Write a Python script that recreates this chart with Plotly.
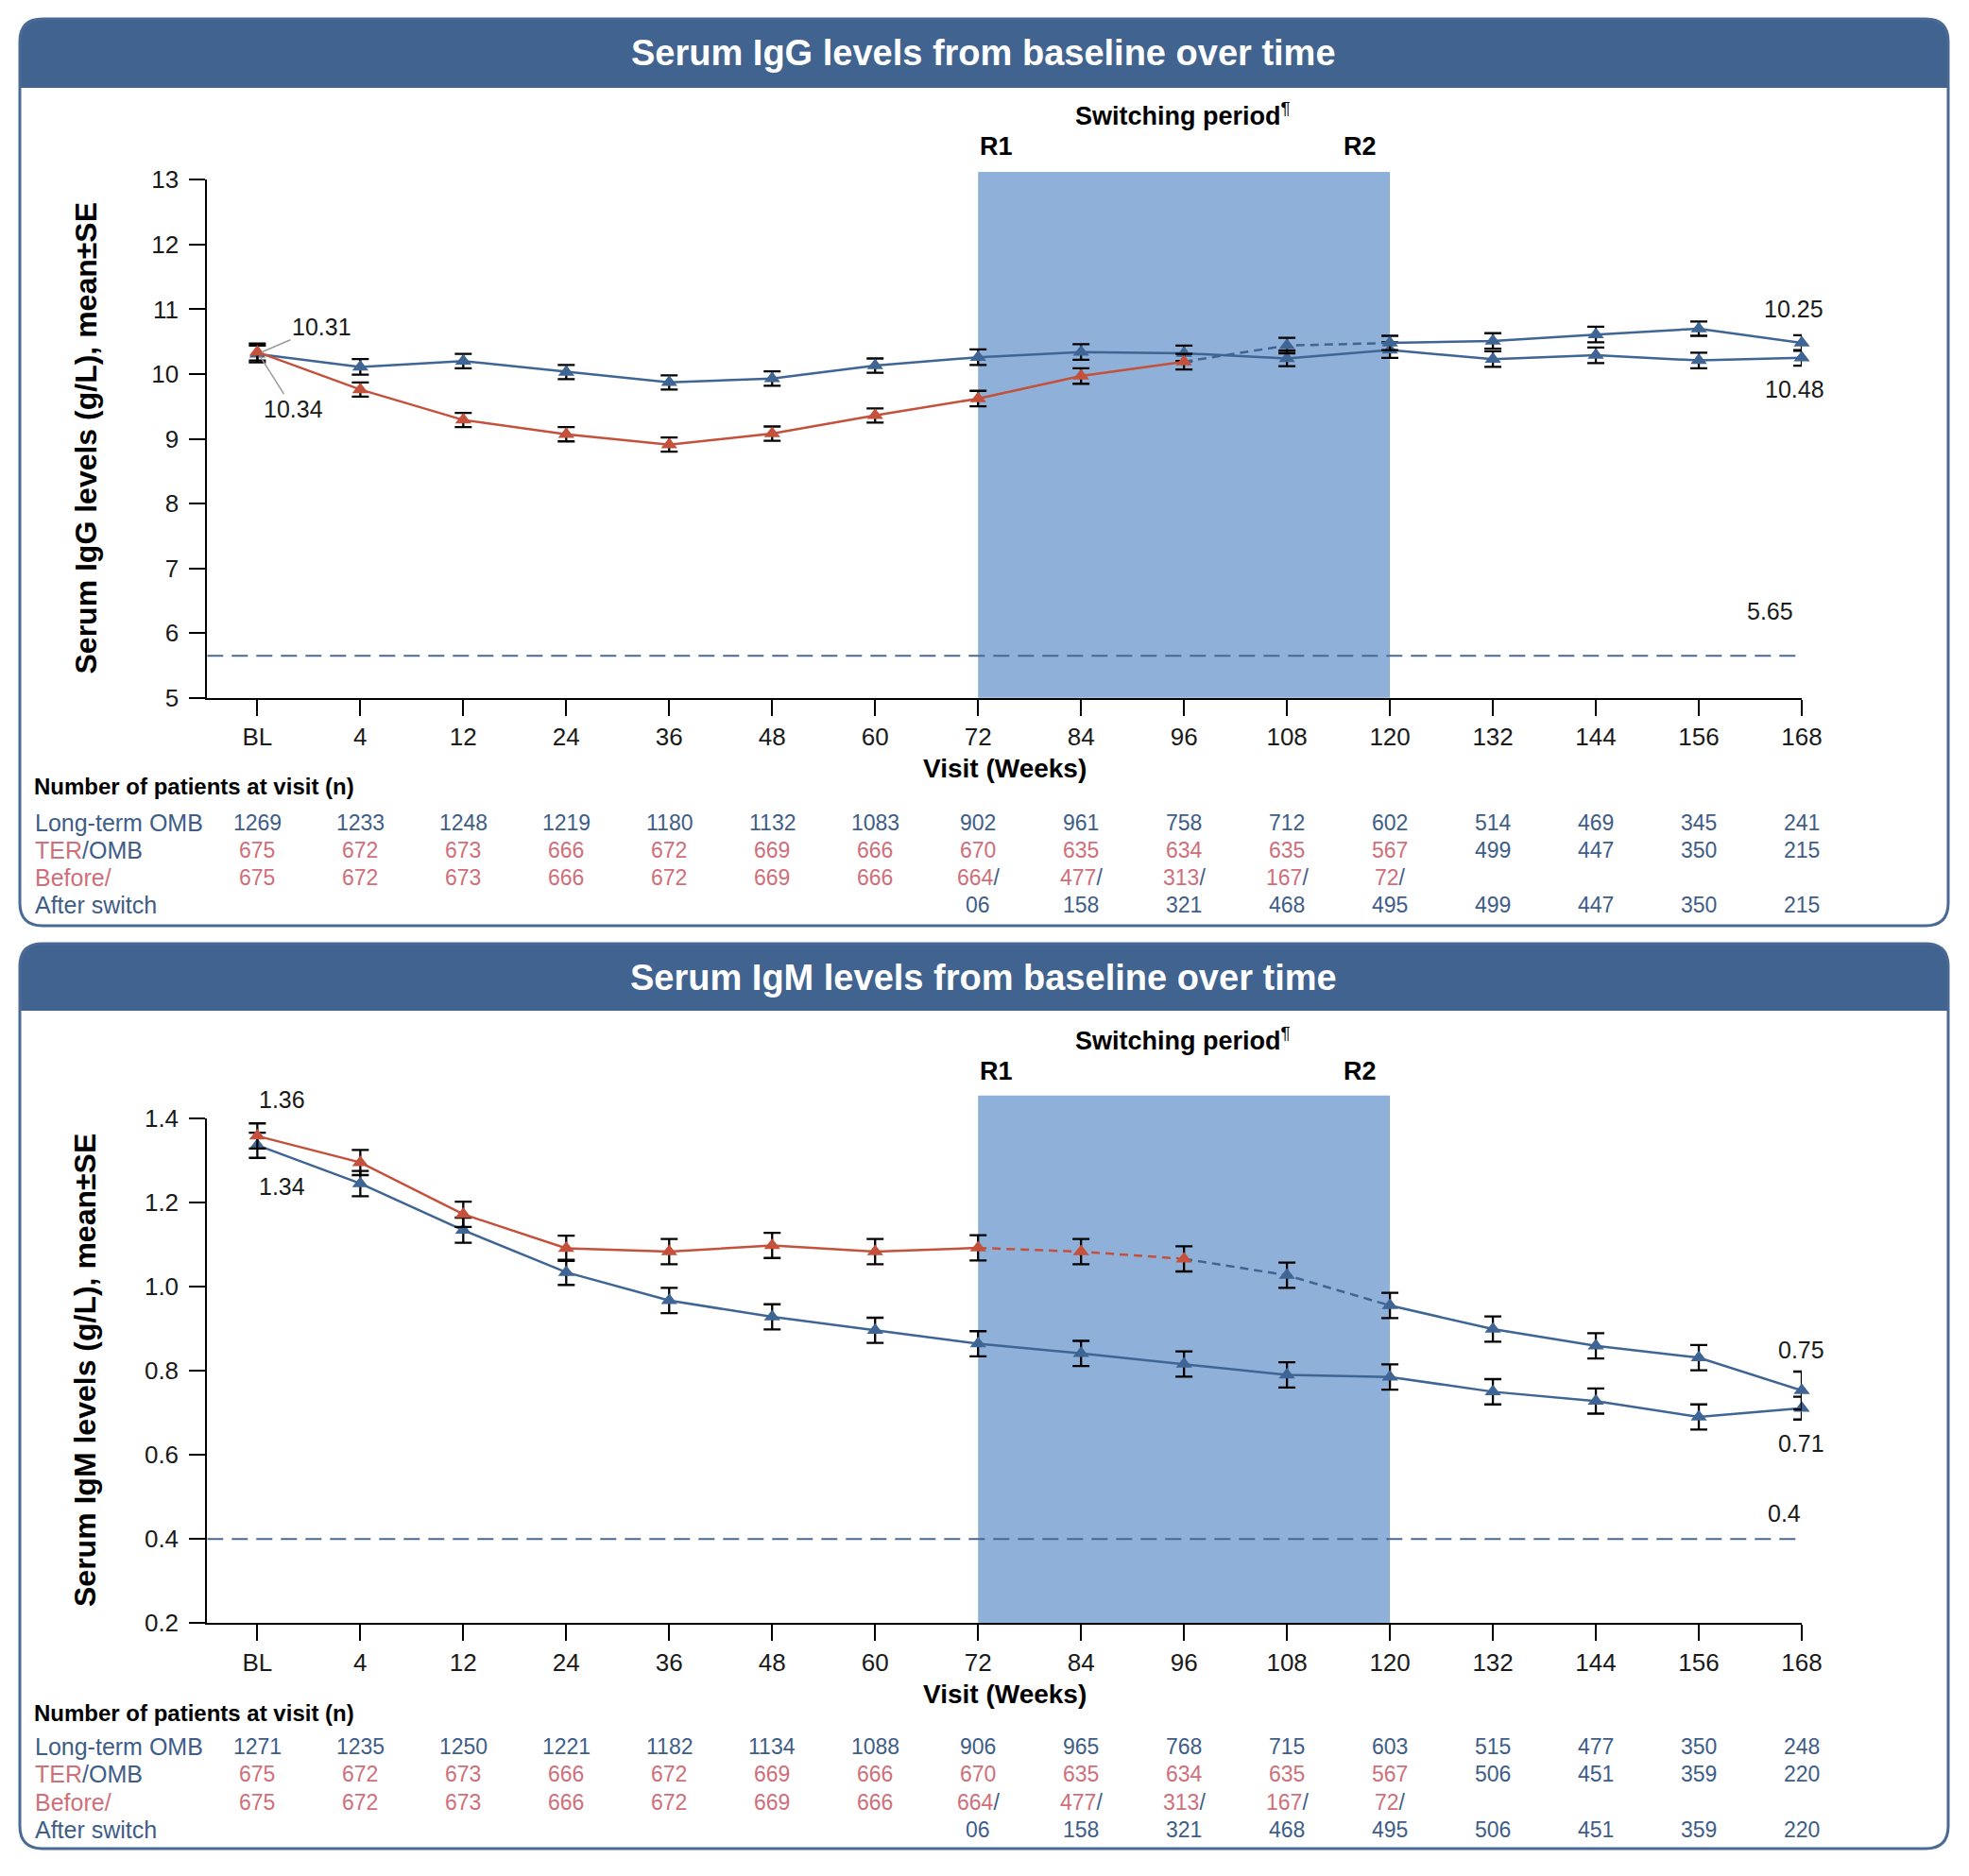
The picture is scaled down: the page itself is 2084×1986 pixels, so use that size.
import plotly.graph_objects as go

# ---------------- data ----------------
weeks = ["BL", "4", "12", "24", "36", "48", "60", "72", "84", "96",
         "108", "120", "132", "144", "156", "168"]

igg_omb = [10.31, 10.11, 10.20, 10.03, 9.87, 9.93, 10.13, 10.26, 10.34, 10.32,
           10.24, 10.37, 10.23, 10.29, 10.21, 10.25]
igg_omb_se = [0.13, 0.12, 0.11, 0.11, 0.11, 0.11, 0.11, 0.12, 0.12, 0.12,
              0.12, 0.12, 0.12, 0.12, 0.12, 0.12]
igg_ter = [10.34, 9.76, 9.29, 9.07, 8.91, 9.08, 9.36, 9.62, 9.97, 10.19,
           10.44, 10.48, 10.51, 10.61, 10.70, 10.48]
igg_ter_se = [0.13, 0.11, 0.11, 0.11, 0.11, 0.11, 0.11, 0.12, 0.12, 0.12,
              0.12, 0.11, 0.12, 0.12, 0.11, 0.12]

igm_omb = [1.336, 1.245, 1.134, 1.034, 0.967, 0.928, 0.896, 0.864, 0.841, 0.816,
           0.790, 0.785, 0.750, 0.728, 0.690, 0.711]
igm_omb_se = [0.03, 0.03, 0.03, 0.03, 0.03, 0.03, 0.03, 0.03, 0.03, 0.03,
              0.03, 0.03, 0.03, 0.03, 0.03, 0.027]
igm_ter = [1.358, 1.295, 1.172, 1.091, 1.083, 1.098, 1.083, 1.092, 1.083, 1.066,
           1.027, 0.955, 0.899, 0.859, 0.831, 0.753]
igm_ter_se = [0.03, 0.03, 0.03, 0.03, 0.03, 0.03, 0.03, 0.03, 0.03, 0.03,
              0.03, 0.03, 0.03, 0.03, 0.03, 0.045]

igg_threshold = 5.65
igm_threshold = 0.4

igg_n_omb = [1269, 1233, 1248, 1219, 1180, 1132, 1083, 902, 961, 758, 712, 602, 514, 469, 345, 241]
igg_n_ter = [675, 672, 673, 666, 672, 669, 666, 670, 635, 634, 635, 567, 499, 447, 350, 215]
igg_n_before = [675, 672, 673, 666, 672, 669, 666, 664, 477, 313, 167, 72, None, None, None, None]
igg_n_after = [None, None, None, None, None, None, None, "06", "158", "321", "468", "495",
               "499", "447", "350", "215"]

igm_n_omb = [1271, 1235, 1250, 1221, 1182, 1134, 1088, 906, 965, 768, 715, 603, 515, 477, 350, 248]
igm_n_ter = [675, 672, 673, 666, 672, 669, 666, 670, 635, 634, 635, 567, 506, 451, 359, 220]
igm_n_before = [675, 672, 673, 666, 672, 669, 666, 664, 477, 313, 167, 72, None, None, None, None]
igm_n_after = [None, None, None, None, None, None, None, "06", "158", "321", "468", "495",
               "506", "451", "359", "220"]

# ---------------- styling ----------------
W, H = 2084, 1986
FONT = "Liberation Sans, Arial, Helvetica, sans-serif"
BLUE = "#3e6593"
RED = "#c4513b"
BLUE_TXT = "#3e5d87"
RED_TXT = "#cf6f7a"
FRAME = "#4a6a95"
BAR = "#41638f"
SHADE = "#8fb0d8"
REF = "#4a6890"


def px(x):
    return x / W


def py(y):
    return 1 - y / H


idx = list(range(len(weeks)))
x_lo = -0.487

fig = go.Figure()


def add_chart(xa, ya, omb, omb_se, ter, ter_se, segments):
    fig.add_trace(go.Scatter(
        x=idx, y=omb, xaxis=xa, yaxis=ya, mode="lines+markers",
        line=dict(color=BLUE, width=2.5),
        marker=dict(symbol="triangle-up", size=15, color=BLUE),
        error_y=dict(type="data", array=omb_se, color="black", thickness=2.3, width=9),
        cliponaxis=False, hoverinfo="x+y"))
    for (a, b, col, dash) in segments:
        fig.add_trace(go.Scatter(
            x=idx[a:b + 1], y=ter[a:b + 1], xaxis=xa, yaxis=ya, mode="lines",
            line=dict(color=col, width=2.5, dash=dash), cliponaxis=False,
            hoverinfo="skip"))
    mcols = [RED if i <= 9 else BLUE for i in idx]
    fig.add_trace(go.Scatter(
        x=idx, y=ter, xaxis=xa, yaxis=ya, mode="markers",
        marker=dict(symbol="triangle-up", size=15, color=mcols),
        error_y=dict(type="data", array=ter_se, color="black", thickness=2.3, width=9),
        cliponaxis=False, hoverinfo="x+y"))


add_chart("x", "y", igg_omb, igg_omb_se, igg_ter, igg_ter_se,
          [(0, 9, RED, "solid"), (9, 11, BLUE, "9px,6px"), (11, 15, BLUE, "solid")])
add_chart("x2", "y2", igm_omb, igm_omb_se, igm_ter, igm_ter_se,
          [(0, 7, RED, "solid"), (7, 9, RED, "9px,6px"), (9, 11, BLUE, "9px,6px"),
           (11, 15, BLUE, "solid")])

xdom = [px(219.3), px(1907)]
axis_common = dict(showline=True, linecolor="black", linewidth=2, ticks="outside",
                   ticklen=17, tickwidth=2, tickcolor="black", showgrid=False,
                   zeroline=False, tickfont=dict(family=FONT, size=26, color="#1a1a1a"),
                   automargin=False)
xcommon = dict(axis_common, range=[x_lo, 15], tickvals=idx, ticktext=weeks, domain=xdom,
               ticklabelstandoff=0)

fig.update_layout(
    width=W, height=H, margin=dict(l=0, r=0, t=0, b=0, pad=0), autosize=False,
    paper_bgcolor="white", plot_bgcolor="white", showlegend=False,
    font=dict(family=FONT, color="#1a1a1a"),
    xaxis=dict(xcommon, anchor="y"),
    yaxis=dict(axis_common, range=[5, 13], dtick=1, tick0=5, anchor="x",
               domain=[py(738.7), py(190.3)], ticklabelstandoff=6),
    xaxis2=dict(xcommon, anchor="y2"),
    yaxis2=dict(axis_common, range=[0.2, 1.4], dtick=0.2, tick0=0.2, tickformat=".1f",
                anchor="x2", domain=[py(1718.3), py(1183.9)], ticklabelstandoff=6),
)

shapes = []
annotations = []


def rrect_path(x0, y0, x1, y1, r, top_only=False):
    def P(x, y):
        return f"{px(x):.6f},{py(y):.6f}"
    if top_only:
        return (f"M {P(x0, y1)} L {P(x0, y0 + r)} Q {P(x0, y0)} {P(x0 + r, y0)} "
                f"L {P(x1 - r, y0)} Q {P(x1, y0)} {P(x1, y0 + r)} L {P(x1, y1)} Z")
    return (f"M {P(x0 + r, y0)} L {P(x1 - r, y0)} Q {P(x1, y0)} {P(x1, y0 + r)} "
            f"L {P(x1, y1 - r)} Q {P(x1, y1)} {P(x1 - r, y1)} L {P(x0 + r, y1)} "
            f"Q {P(x0, y1)} {P(x0, y1 - r)} L {P(x0, y0 + r)} Q {P(x0, y0)} {P(x0 + r, y0)} Z")


def txt(text, x, y, size, color="black", **kw):
    d = dict(text=text, xref="paper", yref="paper", x=x, y=y, showarrow=False,
             font=dict(family=FONT, size=size, color=color),
             xanchor="center", yanchor="middle")
    d.update(kw)
    return d


panels = [
    dict(top=20, bar=93, bottom=980, title="Serum IgG levels from baseline over time",
         xa="x", ya="y", ydom="y domain", shade_top=1.015, thr=igg_threshold,
         ytitle="Serum IgG levels (g/L), mean±SE", ymid=464.5, visit_y=813, num_y=833,
         rows=[870.5, 899.8, 929, 958.2],
         n=(igg_n_omb, igg_n_ter, igg_n_before, igg_n_after)),
    dict(top=999, bar=1070, bottom=1957, title="Serum IgM levels from baseline over time",
         xa="x2", ya="y2", ydom="y2 domain", shade_top=1.045, thr=igm_threshold,
         ytitle="Serum IgM levels (g/L), mean±SE", ymid=1451, visit_y=1793, num_y=1813,
         rows=[1848.6, 1877.9, 1907.6, 1937.2],
         n=(igm_n_omb, igm_n_ter, igm_n_before, igm_n_after)),
]

for p in panels:
    off = p["top"] - 20
    shapes.append(dict(type="path", xref="paper", yref="paper",
                       path=rrect_path(21, p["top"], 2062, p["bar"], 24, top_only=True),
                       fillcolor=BAR, line=dict(width=0), layer="above"))
    shapes.append(dict(type="path", xref="paper", yref="paper",
                       path=rrect_path(21, p["top"], 2062, p["bottom"], 24),
                       fillcolor="rgba(0,0,0,0)", line=dict(color=FRAME, width=3), layer="above"))
    annotations.append(txt(f"<b>{p['title']}</b>", px(1041), py(p["top"] + 36), 38, "white"))
    shapes.append(dict(type="rect", xref=p["xa"], yref=p["ydom"], x0=7, x1=11, y0=0,
                       y1=p["shade_top"], fillcolor=SHADE, line=dict(width=0), layer="below"))
    shapes.append(dict(type="line", xref=p["xa"], yref=p["ya"], x0=x_lo, x1=15,
                       y0=p["thr"], y1=p["thr"], line=dict(color=REF, width=2, dash="17px,9px"),
                       layer="above"))
    annotations.append(txt("<b>Switching period</b><sup>¶</sup>", px(1252), py(121 + off), 27))
    annotations.append(dict(text="<b>R1</b>", xref=p["xa"], yref="paper", x=7,
                            y=py(155 + off), showarrow=False, xanchor="left", yanchor="middle",
                            font=dict(family=FONT, size=27, color="black")))
    annotations.append(dict(text="<b>R2</b>", xref=p["xa"], yref="paper", x=11, xshift=-12,
                            y=py(155 + off), showarrow=False, xanchor="right", yanchor="middle",
                            font=dict(family=FONT, size=27, color="black")))
    annotations.append(txt(f"<b>{p['ytitle']}</b>", px(90), py(p["ymid"]), 32, textangle=-90))
    annotations.append(txt("<b>Visit (Weeks)</b>", px(1063), py(p["visit_y"]), 28))
    annotations.append(txt("<b>Number of patients at visit (n)</b>", px(34), py(p["num_y"]), 24,
                           xanchor="left"))
    labels = ["Long-term OMB",
              f"<span style='color:{RED_TXT}'>TER</span>/OMB",
              f"<span style='color:{RED_TXT}'>Before/</span>",
              "After switch"]
    for ry, lab in zip(p["rows"], labels):
        annotations.append(txt(lab, px(35), py(ry), 25, BLUE_TXT, xanchor="left"))
    n_omb, n_ter, n_bef, n_aft = p["n"]
    for i in idx:
        cells = [str(n_omb[i])]
        col = RED_TXT if i <= 11 else BLUE_TXT
        cells.append(f"<span style='color:{col}'>{n_ter[i]}</span>")
        if n_bef[i] is None:
            cells.append(None)
        elif i >= 7:
            cells.append(f"<span style='color:{RED_TXT}'>{n_bef[i]}</span>/")
        else:
            cells.append(f"<span style='color:{RED_TXT}'>{n_bef[i]}</span>")
        cells.append(n_aft[i])
        for ry, t in zip(p["rows"], cells):
            if t is None:
                continue
            annotations.append(dict(text=t, xref=p["xa"], yref="paper", x=i, y=py(ry),
                                    showarrow=False, xanchor="center", yanchor="middle",
                                    font=dict(family=FONT, size=23, color=BLUE_TXT)))

lab_c = "#1a1a1a"
annotations += [
    dict(text="10.31", xref="x", yref="y", x=0, y=igg_omb[0], ax=68, ay=-29,
         showarrow=True, arrowhead=0, arrowwidth=1.5, arrowcolor="#9a9a9a", standoff=5,
         font=dict(family=FONT, size=25, color=lab_c)),
    dict(text="10.34", xref="x", yref="y", x=0, y=igg_ter[0], ax=38, ay=60,
         showarrow=True, arrowhead=0, arrowwidth=1.5, arrowcolor="#9a9a9a", standoff=5,
         font=dict(family=FONT, size=25, color=lab_c)),
    txt("10.25", px(1898), py(327), 25, lab_c),
    txt("10.48", px(1899), py(412), 25, lab_c),
    txt("5.65", px(1873), py(647), 25, lab_c),
    txt("1.36", px(298), py(1164), 25, lab_c),
    txt("1.34", px(298), py(1256), 25, lab_c),
    txt("0.75", px(1906), py(1429), 25, lab_c),
    txt("0.71", px(1906), py(1528), 25, lab_c),
    txt("0.4", px(1888), py(1602), 25, lab_c),
]

fig.update_layout(shapes=shapes, annotations=annotations)
fig.write_html(
    "out.html",
    config={"displayModeBar": False},
    post_script=("document.documentElement.style.margin='0';"
                 "document.body.style.margin='0';document.body.style.padding='0';"
                 "document.documentElement.style.overflow='hidden';"
                 "document.body.style.overflow='hidden';"),
)
